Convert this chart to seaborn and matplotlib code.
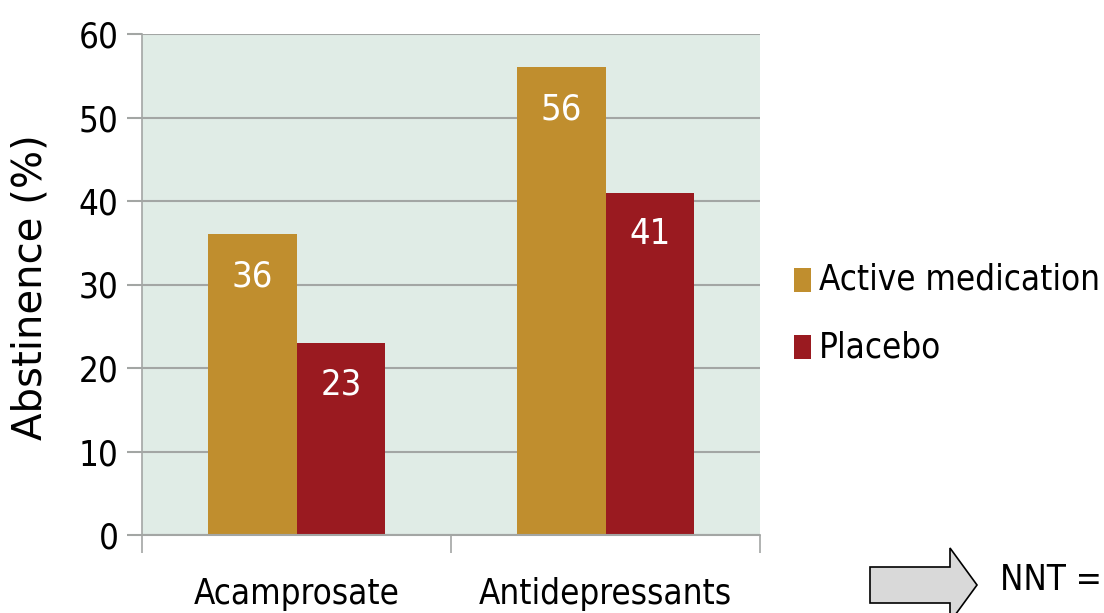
import matplotlib
matplotlib.use("Agg")
import matplotlib.pyplot as plt
from matplotlib import font_manager
from matplotlib.patches import FancyArrow
import seaborn as sns
import pandas as pd

# Data
drugs = ["Acamprosate", "Antidepressants"]
groups = ["Active medication", "Placebo"]
active = [36, 56]
placebo = [23, 41]
y_ticks = [0, 10, 20, 30, 40, 50, 60]

colors = {"Active medication": "#c08e2e", "Placebo": "#9a1a20"}
bg = "#e0ece6"
grid_c = "#a3a6a4"

df = pd.DataFrame({
    "drug": drugs * 2,
    "group": [groups[0]] * len(drugs) + [groups[1]] * len(drugs),
    "value": active + placebo,
})

sns.set_theme(style="white")
plt.rcParams["font.family"] = ["DejaVu Sans"]

# Narrow face for tick / legend / bar text if available
has_condensed = any(
    ("condensed" in str(f.stretch).lower() or "Condensed" in f.fname)
    and f.name == "DejaVu Sans" and f.weight in (400, "normal")
    for f in font_manager.fontManager.ttflist
)
stretch = "condensed" if has_condensed else "normal"
fs = 25 if has_condensed else 22.5

fig = plt.figure(figsize=(11.04, 6.13), dpi=100)
ax = fig.add_axes([142 / 1104, 1 - 535 / 613, (760 - 142) / 1104, (535 - 34) / 613])
ax.set_facecolor(bg)

sns.barplot(data=df, x="drug", y="value", hue="group", order=drugs,
            hue_order=groups, palette=colors, width=0.575, saturation=1,
            ax=ax, legend=False, edgecolor="none", linewidth=0)

ax.set_xlim(-0.5, 1.5)
ax.set_ylim(0, 60)
ax.set_yticks(y_ticks)
ax.yaxis.grid(True, color=grid_c, linewidth=1.5)
ax.set_axisbelow(True)
for side in ["top", "right", "bottom"]:
    ax.spines[side].set_visible(False)
ax.spines["left"].set_color(grid_c)
ax.spines["left"].set_linewidth(1.2)
ax.axhline(0, color=grid_c, linewidth=1.5, zorder=3, clip_on=False)

ax.tick_params(axis="y", which="major", left=True, length=11, width=1.5,
               color=grid_c, direction="out", pad=6)
ax.tick_params(axis="x", which="major", bottom=True, length=0, pad=30)
ax.set_xticks([-0.5, 0.5, 1.5], minor=True)
ax.tick_params(axis="x", which="minor", bottom=True, length=13, width=1.2,
               color=grid_c, direction="out")

for lab in ax.get_yticklabels() + ax.get_xticklabels():
    lab.set_fontsize(fs)
    lab.set_fontstretch(stretch)
    lab.set_color("black")

ax.set_xlabel("")
ax.set_ylabel("Abstinence (%)", fontsize=29, color="black")
ax.yaxis.set_label_coords(-0.148, 0.495)

# Value labels inside each bar, near its top
for patch in ax.patches:
    h = patch.get_height()
    if h <= 0:
        continue
    xc = patch.get_x() + patch.get_width() / 2
    ax.annotate(f"{h:g}", xy=(xc, h), xytext=(0, -30), textcoords="offset points",
                ha="center", va="center", color="white", fontsize=fs + 1,
                fontstretch=stretch)

# Legend
for i, (g, yc) in enumerate(zip(groups, [280, 347])):
    fig.patches.append(plt.Rectangle((794 / 1104, 1 - (yc + 12) / 613), 17 / 1104,
                                     24 / 613, transform=fig.transFigure,
                                     facecolor=colors[g], edgecolor="none"))
    fig.text(819 / 1104, 1 - yc / 613, g, ha="left", va="center", fontsize=fs,
             fontstretch=stretch, color="black")

# Block arrow and NNT text
arrow = FancyArrow(870 / 1104, 1 - 585 / 613, 107 / 1104, 0,
                   width=36 / 613, head_width=74 / 613, head_length=27 / 1104,
                   length_includes_head=True, transform=fig.transFigure,
                   facecolor="#d9d9d9", edgecolor="black", linewidth=1.2)
fig.patches.append(arrow)
fig.text(1000 / 1104, 1 - 580 / 613, "NNT =", ha="left", va="center",
         fontsize=fs, fontstretch=stretch, color="black")

fig.savefig("out.png", dpi=100)
